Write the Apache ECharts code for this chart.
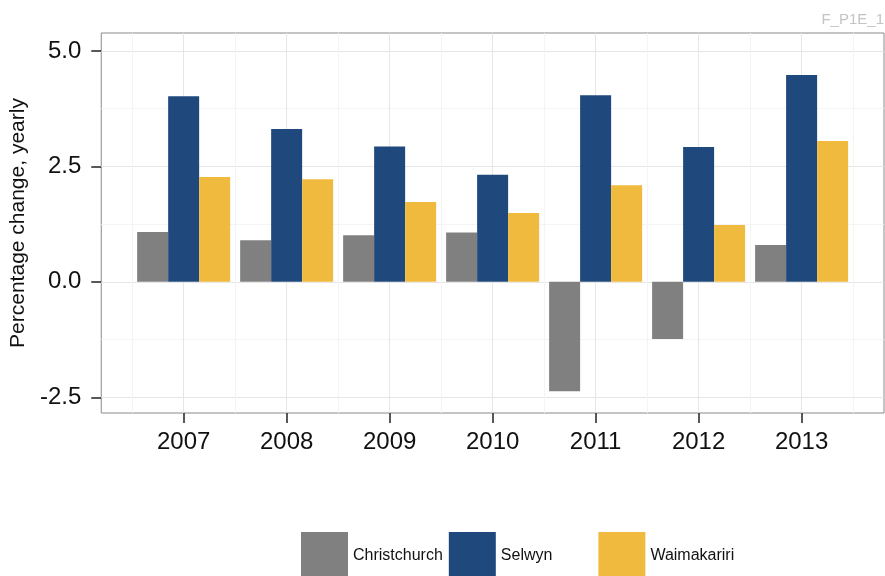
<!DOCTYPE html>
<html>
<head>
<meta charset="utf-8">
<script src="https://cdn.jsdelivr.net/npm/echarts@6/dist/echarts.min.js"></script>
<style>
html,body{margin:0;padding:0;background:#fff;}
#chart{width:885px;height:576px;}
</style>
</head>
<body>
<div id="chart"></div>
<script>
var years = ['2007','2008','2009','2010','2011','2012','2013'];
var christchurch = [1.08, 0.90, 1.01, 1.07, -2.37, -1.24, 0.80];
var selwyn = [4.02, 3.31, 2.93, 2.32, 4.04, 2.92, 4.48];
var waimakariri = [2.27, 2.22, 1.73, 1.49, 2.09, 1.23, 3.05];
var yTicks = [-2.5, 0, 2.5, 5.0];
var yMinor = [-1.25, 1.25, 3.75];
var seriesNames = ['Christchurch', 'Selwyn', 'Waimakariri'];
var colors = ['#808080', '#1F487C', '#F0BA3E'];

var FONT = "'Liberation Sans', Arial, Helvetica, sans-serif";
var xPos = years.map(function (y, i) { return i + 1; });
var xMinor = years.map(function (y, i) { return i + 0.5; }).concat([years.length + 0.5]);

function toData(arr) { return arr.map(function (v, i) { return [xPos[i], v]; }); }

var gridLines = [];
yTicks.forEach(function (v) { gridLines.push({ yAxis: v, lineStyle: { color: '#e6e6e6', width: 1, type: 'solid' } }); });
yMinor.forEach(function (v) { gridLines.push({ yAxis: v, lineStyle: { color: '#f4f4f4', width: 1, type: 'solid' } }); });
xPos.forEach(function (v) { gridLines.push({ xAxis: v, lineStyle: { color: '#e6e6e6', width: 1, type: 'solid' } }); });
xMinor.forEach(function (v) { gridLines.push({ xAxis: v, lineStyle: { color: '#f4f4f4', width: 1, type: 'solid' } }); });

var chart = echarts.init(document.getElementById('chart'), null, { renderer: 'canvas' });
var barSeries = [christchurch, selwyn, waimakariri].map(function (arr, k) {
  return {
    name: seriesNames[k],
    type: 'bar',
    data: toData(arr),
    barWidth: 31,
    barGap: '0%',
    itemStyle: { color: colors[k] },
    z: 3
  };
});
chart.setOption({
  animation: false,
  backgroundColor: '#ffffff',
  textStyle: { fontFamily: FONT },
  title: {
    text: 'F_P1E_1',
    right: 1, top: 12, padding: 0,
    textStyle: { fontFamily: FONT, fontSize: 15, fontWeight: 'normal', color: '#c4c4c4' }
  },
  legend: {
    data: seriesNames,
    left: 301, top: 532, padding: 0,
    orient: 'horizontal',
    icon: 'rect',
    itemWidth: 47, itemHeight: 47, itemGap: 6,
    selectedMode: false,
    formatter: function (name) {
      return name === 'Selwyn' ? name + '\u00a0\u00a0\u00a0\u00a0\u00a0\u00a0\u00a0\u00a0\u00a0' : name;
    },
    textStyle: { fontFamily: FONT, fontSize: 16, color: '#111' }
  },
  grid: {
    left: 101, top: 33, width: 783, height: 380,
    show: true, backgroundColor: '#ffffff', borderColor: '#8a8a8a', borderWidth: 1,
    containLabel: false
  },
  xAxis: {
    type: 'value', min: 0.2, max: 7.8,
    axisLine: { show: false, onZero: false },
    splitLine: { show: false },
    axisTick: { show: true, customValues: xPos, length: 10, lineStyle: { color: '#222', width: 1.5 } },
    axisLabel: {
      customValues: xPos, margin: 17,
      fontFamily: FONT, fontSize: 24, color: '#111',
      formatter: function (v) { return years[Math.round(v) - 1]; }
    }
  },
  yAxis: {
    type: 'value', min: -2.84, max: 5.39,
    name: 'Percentage change, yearly',
    nameLocation: 'middle', nameRotate: 90, nameGap: 66,
    nameTextStyle: { fontFamily: FONT, fontSize: 21, color: '#111' },
    axisLine: { show: false, onZero: false },
    splitLine: { show: false },
    axisTick: { show: true, customValues: yTicks, length: 10, lineStyle: { color: '#222', width: 1.5 } },
    axisLabel: {
      customValues: yTicks, margin: 20,
      fontFamily: FONT, fontSize: 24, color: '#111',
      formatter: function (v) { return Number(v).toFixed(1); }
    }
  },
  series: [{
    type: 'scatter', data: [], silent: true, z: 1,
    markLine: {
      silent: true, symbol: ['none', 'none'], z: 1,
      label: { show: false },
      animation: false,
      data: gridLines
    }
  }].concat(barSeries)
});
</script>
</body>
</html>
